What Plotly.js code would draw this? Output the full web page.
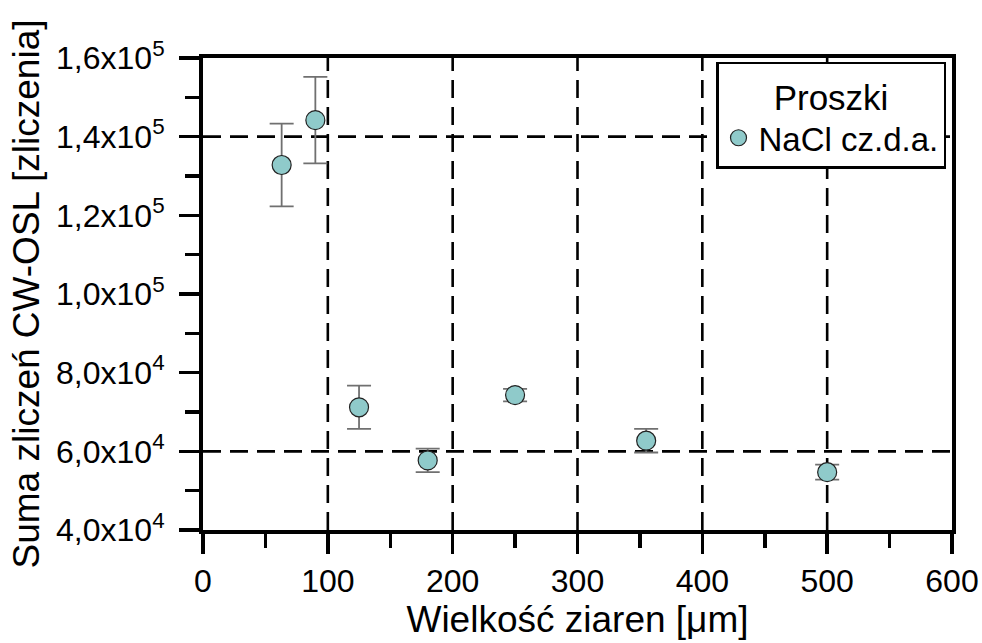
<!DOCTYPE html>
<html>
<head>
<meta charset="utf-8">
<script src="https://cdn.plot.ly/plotly-3.0.1.min.js"></script>
<style>html,body{margin:0;padding:0;background:#fff;}#chart{width:982px;height:643px;}</style>
</head>
<body>
<div id="chart"></div>
<script>
// Data
const grainSize = [63, 90, 125, 180, 250, 355, 500];
const oslSum = [132800, 144200, 71200, 57700, 74300, 62700, 54700];
const oslErr = [10500, 11000, 5500, 3000, 1600, 3000, 1900];
const seriesName = "NaCl cz.d.a.";
const legendTitle = "Proszki";
const yTickVals = [40000, 60000, 80000, 100000, 120000, 140000, 160000];
const yTickText = ["4,0x10<sup>4</sup>", "6,0x10<sup>4</sup>", "8,0x10<sup>4</sup>", "1,0x10<sup>5</sup>", "1,2x10<sup>5</sup>", "1,4x10<sup>5</sup>", "1,6x10<sup>5</sup>"];
const yMinorVals = [50000, 70000, 90000, 110000, 130000, 150000];
const xTickVals = [0, 100, 200, 300, 400, 500, 600];
const gridX = [100, 200, 300, 400, 500];
const gridY = [60000, 140000];

const FONT = "Liberation Sans, Arial, sans-serif";
const DASH = "18px,9px";

const shapes = [];
gridX.forEach(v => shapes.push({type:"line", xref:"x", yref:"paper", x0:v, x1:v, y0:0, y1:1, layer:"below", line:{color:"#000", width:2.6, dash:DASH}}));
gridY.forEach(v => shapes.push({type:"line", xref:"paper", yref:"y", x0:0, x1:1, y0:v, y1:v, layer:"below", line:{color:"#000", width:2.6, dash:DASH}}));

const trace = {
  x: grainSize, y: oslSum, name: seriesName,
  type: "scatter", mode: "markers",
  marker: {size: 19, color: "#8fcaca", line: {color: "#222", width: 1.2}},
  error_y: {type: "data", array: oslErr, visible: true, color: "#707070", thickness: 1.8, width: 12},
  showlegend: true
};

const layout = {
  width: 982, height: 643,
  paper_bgcolor: "#fff", plot_bgcolor: "#fff",
  margin: {l: 203, r: 30, t: 58, b: 113},
  font: {family: FONT, color: "#000"},
  shapes: shapes,
  xaxis: {
    range: [0, 600], tickvals: xTickVals, ticks: "outside", ticklen: 20, tickwidth: 3.5, tickcolor: "#000",
    showline: true, linewidth: 4, linecolor: "#000", mirror: true, showgrid: false, zeroline: false,
    tickfont: {size: 32, family: FONT}, ticklabelstandoff: 0,
    minor: {dtick: 50, ticks: "outside", ticklen: 14, tickwidth: 3.5, tickcolor: "#000", showgrid: false},
    title: {text: "Wielkość ziaren [μm]", font: {size: 37, family: FONT}, standoff: 0}
  },
  yaxis: {
    range: [40000, 160000], tickvals: yTickVals, ticktext: yTickText, ticks: "outside", ticklen: 20, tickwidth: 3.5, tickcolor: "#000",
    showline: true, linewidth: 4, linecolor: "#000", mirror: true, showgrid: false, zeroline: false,
    tickfont: {size: 32, family: FONT}, ticklabelstandoff: 8,
    minor: {tickvals: yMinorVals, ticks: "outside", ticklen: 14, tickwidth: 3.5, tickcolor: "#000", showgrid: false},
    title: {text: "Suma zliczeń CW-OSL [zliczenia]", font: {size: 37, family: FONT}, standoff: 6}
  },
  legend: {
    x: 0.992, y: 0.992, xanchor: "right", yanchor: "top",
    bgcolor: "#fff", bordercolor: "#000", borderwidth: 2.5,
    font: {size: 33, family: FONT},
    title: {text: legendTitle, side: "top center", font: {size: 35, family: FONT}},
    itemsizing: "trace", tracegroupgap: 0
  }
};

Plotly.newPlot("chart", [trace], layout, {displayModeBar: false, staticPlot: true});
</script>
</body>
</html>
